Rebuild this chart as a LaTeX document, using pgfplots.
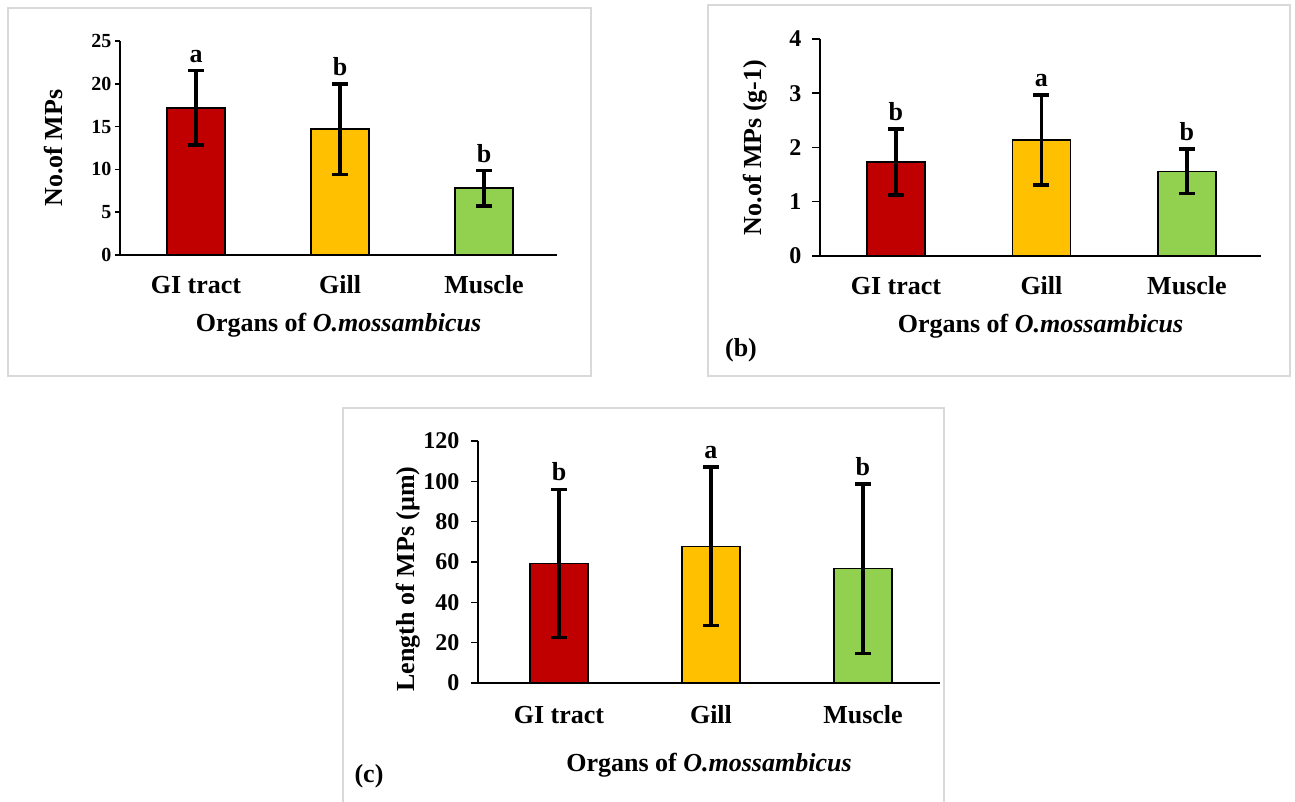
\documentclass[border=0pt]{standalone}
\usepackage{fontspec}
\setmainfont{Liberation Serif}
\usepackage{pgfplots}
\pgfplotsset{compat=1.18}

\definecolor{cred}{HTML}{C00000}
\definecolor{cyel}{HTML}{FFC000}
\definecolor{cgrn}{HTML}{92D050}
\definecolor{frm}{HTML}{D9D9D9}

\newcommand{\lab}{\bfseries\fontsize{26}{28}\selectfont}
\newcommand{\tka}{\bfseries\fontsize{20}{22}\selectfont}
\newcommand{\tkb}{\bfseries\fontsize{24}{26}\selectfont}
\newcommand{\ltr}{\bfseries\fontsize{26}{28}\selectfont}

\pgfplotsset{
  panel/.style={
    scale only axis,
    clip=false,
    axis x line*=bottom, axis y line*=left,
    axis line style={line width=2pt, -},
    ymin=0,
    xtick={0,1,2}, xticklabels={GI tract, Gill, Muscle},
    x tick style={draw=none},
    y tick style={line width=1.5pt, black},
    tick align=outside,
    /pgf/number format/assume math mode=true,
    xticklabel style={font=\lab, anchor=center, inner sep=0pt},
    xlabel={Organs of \textit{O.mossambicus}},
    xlabel style={font=\lab, anchor=center},
    ylabel style={font=\lab, anchor=center},
  },
  barA/.style={ybar, bar width=58pt, bar shift=0pt, draw=black, line width=1.5pt,
    error bars/y dir=both, error bars/y explicit,
    error bars/error bar style={line width=3.5pt, black},
    error bars/error mark options={rotate=90, line width=3.5pt, mark size=8pt, black}},
  letters/.style={draw=none, only marks, mark=none, nodes near coords,
    point meta=explicit symbolic,
    nodes near coords style={font=\ltr, anchor=south, inner sep=0pt, yshift=8pt}},
}

\begin{document}
\begin{tikzpicture}[x=1pt,y=1pt]
\useasboundingbox (0pt,0pt) rectangle (1295pt,801pt);
% panel frames
\draw[frm, line width=1.8pt] (8pt,793pt) rectangle (591pt,425pt);
\draw[frm, line width=1.8pt] (708pt,796pt) rectangle (1290pt,425pt);
\draw[frm, line width=1.8pt] (343pt,393pt) rectangle (944pt,-10pt);

% (a)
\begin{axis}[panel,
  at={(120pt,546pt)}, anchor=south west,
  width=437pt, height=214pt,
  xmin=-0.528, xmax=2.507, ymax=25,
  ytick={0,5,10,15,20,25},
  major tick length=5pt,
  yticklabel style={font=\tka},
  xticklabel style={yshift=-25pt},
  xlabel style={at={(axis description cs:0.5,-0.33)}},
  ylabel={No.of MPs},
  ylabel style={at={(axis description cs:-0.153,0.5)}},
]
\addplot[barA, fill=cred] coordinates {(0,17.2) +- (0,4.35)};
\addplot[barA, fill=cyel] coordinates {(1,14.7) +- (0,5.3)};
\addplot[barA, fill=cgrn] coordinates {(2,7.8) +- (0,2.05)};
\addplot[letters] coordinates {(0,21.55) [a] (1,20.0) [b] (2,9.85) [b]};
\end{axis}

% (b)
\begin{axis}[panel,
  at={(820pt,545pt)}, anchor=south west,
  width=441pt, height=217pt,
  xmin=-0.522, xmax=2.509, ymax=4,
  ytick={0,1,2,3,4},
  major tick length=8pt,
  yticklabel style={font=\tkb, xshift=-7pt},
  xticklabel style={yshift=-22pt},
  xlabel style={at={(axis description cs:0.5,-0.325)}},
  ylabel={No.of MPs (g-1)},
  ylabel style={at={(axis description cs:-0.147,0.5)}},
]
\addplot[barA, fill=cred] coordinates {(0,1.73) +- (0,0.61)};
\addplot[barA, fill=cyel] coordinates {(1,2.14) +- (0,0.83)};
\addplot[barA, fill=cgrn] coordinates {(2,1.56) +- (0,0.41)};
\addplot[letters] coordinates {(0,2.34) [b] (1,2.97) [a] (2,1.97) [b]};
\end{axis}
\node[font=\lab, anchor=center] at (741pt,451pt) {(b)};

% (c)
\begin{axis}[panel,
  at={(478pt,118pt)}, anchor=south west,
  width=462pt, height=242pt,
  xmin=-0.533, xmax=2.507, ymax=120,
  ytick={0,20,40,60,80,100,120},
  major tick length=7pt,
  yticklabel style={font=\tkb, xshift=-8pt},
  xticklabel style={yshift=-25pt},
  xlabel style={at={(axis description cs:0.5,-0.338)}},
  ylabel={Length of MPs (µm)},
  ylabel style={at={(axis description cs:-0.1515,0.43)}},
]
\addplot[barA, fill=cred] coordinates {(0,59.3) +- (0,36.7)};
\addplot[barA, fill=cyel] coordinates {(1,67.7) +- (0,39.3)};
\addplot[barA, fill=cgrn] coordinates {(2,56.7) +- (0,42.0)};
\addplot[letters] coordinates {(0,96.0) [b] (1,107.0) [a] (2,98.7) [b]};
\end{axis}
\node[font=\lab, anchor=center] at (369pt,25pt) {(c)};
\end{tikzpicture}
\end{document}
